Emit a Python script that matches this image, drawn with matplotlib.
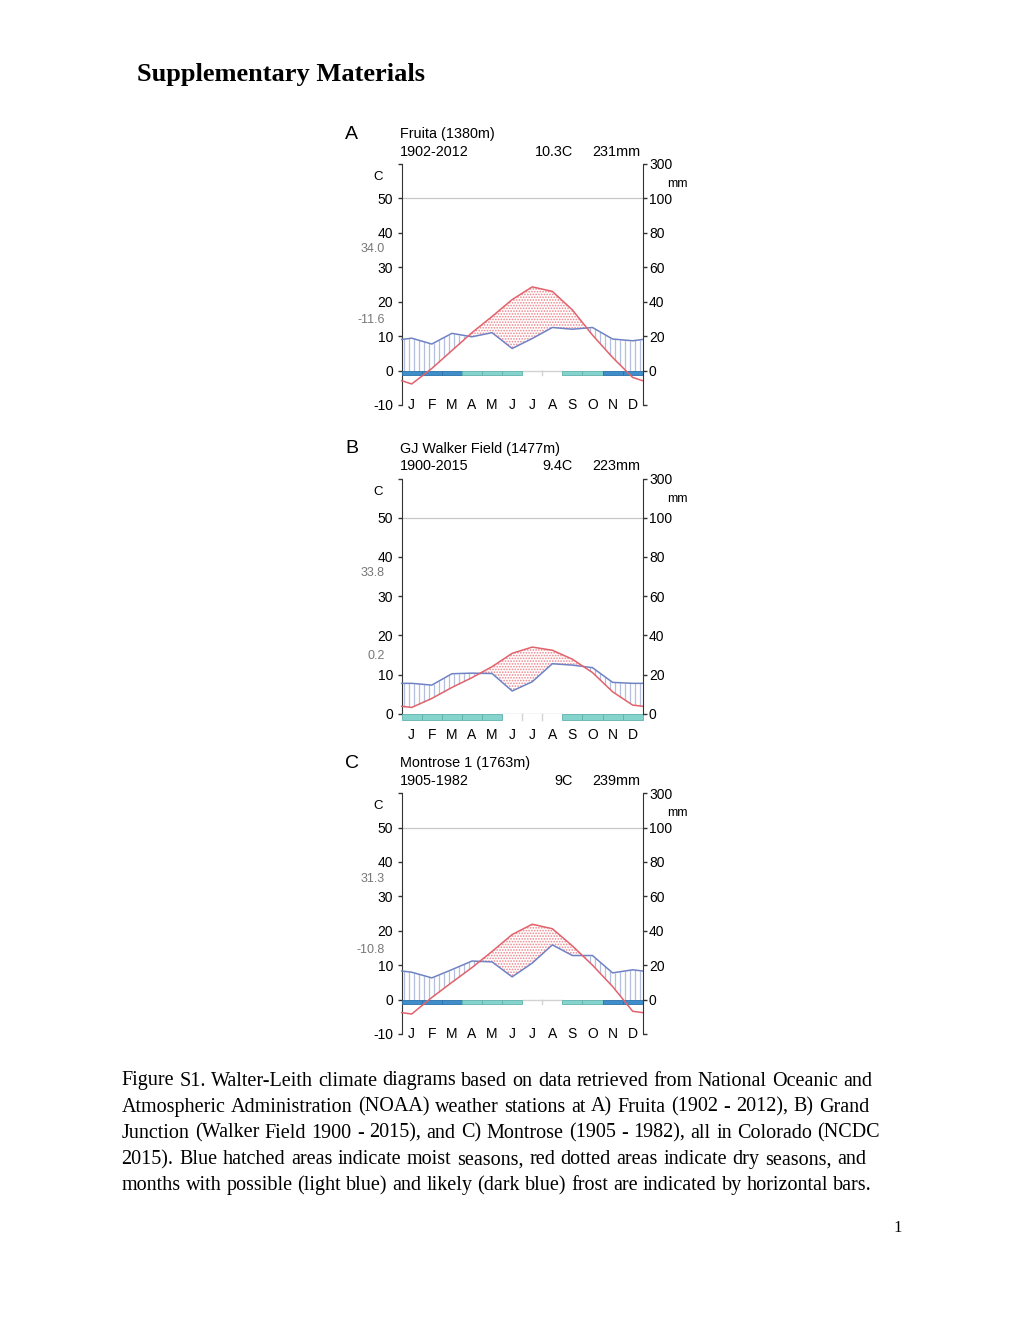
import matplotlib.pyplot as plt
import numpy as np
from matplotlib.patches import Rectangle

plt.rcParams['font.family'] = ['Liberation Sans', 'DejaVu Sans']
plt.rcParams['hatch.linewidth'] = 0.8

MONTHS = ['J', 'F', 'M', 'A', 'M', 'J', 'J', 'A', 'S', 'O', 'N', 'D']

# monthly mean temperature (C) and precipitation (mm); frost: 0 none, 1 possible, 2 likely
fruita_temp = [-3.9, 0.6, 5.8, 11.0, 15.7, 20.6, 24.3, 23.0, 17.6, 10.3, 3.8, -2.0]
fruita_prec = [18.8, 15.4, 21.6, 19.6, 22.0, 12.8, 18.6, 25.0, 24.0, 25.0, 18.3, 17.3]
fruita_frost = [2, 2, 2, 1, 1, 1, 0, 0, 1, 1, 2, 2]

walker_temp = [1.6, 3.9, 6.7, 9.2, 12.0, 15.4, 17.0, 16.2, 13.9, 10.5, 5.6, 2.2]
walker_prec = [15.5, 14.6, 20.4, 20.7, 20.5, 11.6, 16.3, 25.5, 24.8, 23.5, 16.0, 15.5]
walker_frost = [1, 1, 1, 1, 1, 0, 0, 0, 1, 1, 1, 1]

montrose_temp = [-4.2, 0.6, 5.0, 9.3, 14.0, 18.9, 21.9, 20.6, 15.6, 10.0, 3.8, -3.4]
montrose_prec = [15.9, 12.6, 17.4, 22.4, 21.9, 13.2, 21.2, 31.8, 25.6, 25.6, 15.5, 17.3]
montrose_frost = [2, 2, 2, 1, 1, 1, 0, 0, 1, 1, 2, 2]

station_names = ['Fruita (1380m)', 'GJ Walker Field (1477m)', 'Montrose 1 (1763m)']
station_periods = ['1902-2012', '1900-2015', '1905-1982']
station_tmean = ['10.3C', '9.4C', '9C']
station_pann = ['231mm', '223mm', '239mm']
station_absmax = ['34.0', '33.8', '31.3']
station_absmin = ['-11.6', '0.2', '-10.8']

caption_lines = [
    'Figure S1. Walter-Leith climate diagrams based on data retrieved from National Oceanic and',
    'Atmospheric Administration (NOAA) weather stations at A) Fruita (1902 - 2012), B) Grand',
    'Junction (Walker Field 1900 - 2015), and C) Montrose (1905 - 1982), all in Colorado (NCDC',
    '2015). Blue hatched areas indicate moist seasons, red dotted areas indicate dry seasons, and',
    'months with possible (light blue) and likely (dark blue) frost are indicated by horizontal bars.',
]

W, H = 1020, 1320
fig = plt.figure(figsize=(W / 100, H / 100), dpi=100)

RED = '#e2626c'
BLUE = '#6f82c4'
FROST_FC = {1: '#84d4cd', 2: '#3e8ecc'}
FROST_EC = {1: '#5fb2ab', 2: '#2c70a8'}


def diagram(rect, letter, idx, temp, prec, frost, bar_h, lab_y):
    ax = fig.add_axes(rect)
    t = np.array(temp)
    p = np.array(prec) / 2.0  # 100 mm <-> 50 C
    ymin = -10 if t.min() < 0 else 0

    xs = np.concatenate([[0], np.arange(12) + 0.5, [12]])
    t_ext = np.concatenate([[(t[0] + t[-1]) / 2], t, [(t[0] + t[-1]) / 2]])
    p_ext = np.concatenate([[(p[0] + p[-1]) / 2], p, [(p[0] + p[-1]) / 2]])

    # moist season: vertical hatch lines
    xf = np.arange(0.125, 12, 0.25)
    tf = np.interp(xf, xs, t_ext)
    pf = np.interp(xf, xs, p_ext)
    low = np.maximum(tf, 0)
    wet = pf > low
    ax.vlines(xf[wet], low[wet], pf[wet], color='#b3bfde', lw=0.9, zorder=1)

    # dry season: dotted
    xd = np.linspace(0, 12, 601)
    td = np.interp(xd, xs, t_ext)
    pd_ = np.interp(xd, xs, p_ext)
    ax.fill_between(xd, pd_, td, where=td > pd_, interpolate=True,
                    facecolor='none', edgecolor='#eb848c', hatch='......',
                    lw=0, zorder=1)

    ax.plot([0, 12], [50, 50], color='#c8c8c8', lw=0.9, zorder=1)

    # frost bars
    for i, f in enumerate(frost):
        if f:
            ax.add_patch(Rectangle((i, -bar_h), 1, bar_h, facecolor=FROST_FC[f],
                                   edgecolor=FROST_EC[f], lw=0.6, zorder=3,
                                   clip_on=False))
        else:
            ax.plot([i, i + 1], [0, 0], color='#d2d2d2', lw=1.0, zorder=2)
            if i > 0 and frost[i - 1] == 0:
                ax.plot([i, i], [0, -bar_h], color='#d2d2d2', lw=1.0, zorder=2,
                        clip_on=False)

    ax.plot(xs, p_ext, color=BLUE, lw=1.1, zorder=4, clip_on=False)
    ax.plot(xs, t_ext, color=RED, lw=1.1, zorder=5, clip_on=False)

    ax.set_xlim(0, 12)
    ax.set_ylim(ymin, 60)
    ax.set_xticks([])
    for s in ['top', 'bottom', 'right']:
        ax.spines[s].set_visible(False)
    ax.spines['left'].set_color('#333333')
    yt = np.arange(ymin, 61, 10)
    ax.set_yticks(yt)
    ax.set_yticklabels([str(v) if v < 60 else '' for v in yt])
    ax.tick_params(axis='y', direction='out', length=3, width=1, pad=3,
                   labelsize=10, color='#333333')
    ax.patch.set_alpha(0)

    ax2 = ax.twinx()
    ax2.set_ylim(ymin, 60)
    for s in ['top', 'bottom', 'left']:
        ax2.spines[s].set_visible(False)
    ax2.spines['right'].set_color('#333333')
    ax2.set_yticks(yt)
    ax2.set_yticklabels(['' if v < 0 else ('300' if v == 60 else str(2 * v)) for v in yt])
    ax2.tick_params(axis='y', direction='out', length=3, width=1, pad=1.5,
                    labelsize=10, color='#333333')

    month_y = -10 if ymin < 0 else -5.4
    for i, m in enumerate(MONTHS):
        ax.text(i + 0.5, month_y, m, ha='center', va='center', fontsize=10)

    def note(x, y, s, dx, dy, **kw):
        ax.annotate(s, xy=(x, y), xycoords='axes fraction', xytext=(dx, dy),
                    textcoords='offset points', annotation_clip=False, **kw)

    note(0, 1, letter, -36, 21.5, fontsize=14, ha='center', va='center')
    note(0, 1, station_names[idx], -1, 21.5, fontsize=10.4, ha='left', va='center')
    note(0, 1, station_periods[idx], -1, 8.8, fontsize=10.4, ha='left', va='center')
    note(0.71, 1, station_tmean[idx], 0, 8.8, fontsize=10.4, ha='right', va='center')
    note(0.99, 1, station_pann[idx], 0, 8.8, fontsize=10.4, ha='right', va='center')
    note(0, 1, 'C', -17, -9.5, fontsize=9.5, ha='center', va='center')
    note(1, 1, 'mm', 25, -14.5, fontsize=9, ha='center', va='center')

    for s, y in zip([station_absmax[idx], station_absmin[idx]], lab_y):
        ax.annotate(s, xy=(0, y), xycoords=('axes fraction', 'data'),
                    xytext=(-12, 0), textcoords='offset points', ha='right',
                    va='center', fontsize=9, color='#777777',
                    annotation_clip=False)


diagram([0.3938, 0.6932, 0.2363, 0.1826], 'A', 0, fruita_temp, fruita_prec,
        fruita_frost, 1.4, (35.3, 14.7))
diagram([0.3938, 0.4593, 0.2363, 0.1782], 'B', 1, walker_temp, walker_prec,
        walker_frost, 1.6, (35.8, 14.7))
diagram([0.3938, 0.2167, 0.2363, 0.1824], 'C', 2, montrose_temp, montrose_prec,
        montrose_frost, 1.4, (35.0, 14.4))

fig.text(137 / W, 1 - 80.5 / H, 'Supplementary Materials', fontfamily='Liberation Serif',
         fontweight='bold', fontsize=19, va='baseline')
fig.text(893 / W, 1 - 1231.5 / H, '1', fontfamily='Liberation Serif', fontsize=12,
         va='baseline')

# justified caption
renderer = fig.canvas.get_renderer()
right_edges = [872, 869, 880, 866, 872]
for k, line in enumerate(caption_lines):
    yb = 1 - (1085.5 + 26.2 * k) / H
    words = line.split()
    texts = [fig.text(0, yb, w, fontfamily='Liberation Serif', fontsize=14.5,
                      va='baseline') for w in words]
    widths = [tx.get_window_extent(renderer).width for tx in texts]
    gap = (right_edges[k] - 121.5 - sum(widths)) / (len(words) - 1)
    x = 121.5
    for tx, w in zip(texts, widths):
        tx.set_x(x / W)
        x += w + gap

fig.savefig('out.png', dpi=100)
